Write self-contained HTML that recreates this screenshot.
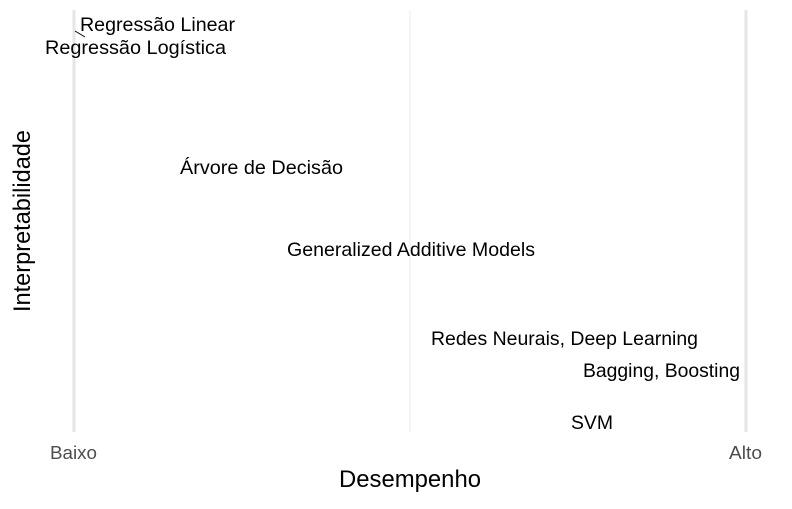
<!DOCTYPE html>
<html><head><meta charset="utf-8"><style>html,body{margin:0;padding:0;background:#fff}</style></head>
<body>
<svg width="792" height="504" xmlns="http://www.w3.org/2000/svg" font-family="Liberation Sans, Arial, sans-serif">
<rect width="792" height="504" fill="#fff"/>
<line x1="410" y1="10" x2="410" y2="432" stroke="#ebebeb" stroke-width="1"/>
<line x1="74" y1="10" x2="74" y2="432" stroke="#e6e6e6" stroke-width="3"/>
<line x1="746" y1="10" x2="746" y2="432" stroke="#e6e6e6" stroke-width="3"/>
<line x1="75" y1="31" x2="85" y2="37" stroke="#000" stroke-width="1"/>
<g font-size="19.5" fill="#000" lengthAdjust="spacingAndGlyphs">
<text x="80" y="31" textLength="155" lengthAdjust="spacingAndGlyphs">Regressão Linear</text>
<text x="45" y="54" textLength="181" lengthAdjust="spacingAndGlyphs">Regressão Logística</text>
<text x="180" y="174" textLength="163" lengthAdjust="spacingAndGlyphs">Árvore de Decisão</text>
<text x="287" y="256" textLength="248" lengthAdjust="spacingAndGlyphs">Generalized Additive Models</text>
<text x="431" y="345" textLength="267" lengthAdjust="spacingAndGlyphs">Redes Neurais, Deep Learning</text>
<text x="583" y="377" textLength="157" lengthAdjust="spacingAndGlyphs">Bagging, Boosting</text>
<text x="571" y="429" textLength="42" lengthAdjust="spacingAndGlyphs">SVM</text>
</g>
<g font-size="18" fill="#4d4d4d">
<text x="50" y="459" textLength="47" lengthAdjust="spacingAndGlyphs">Baixo</text>
<text x="729" y="459" textLength="33" lengthAdjust="spacingAndGlyphs">Alto</text>
</g>
<text x="339" y="487" font-size="24" textLength="142" lengthAdjust="spacingAndGlyphs" fill="#000">Desempenho</text>
<text transform="translate(30,312) rotate(-90)" font-size="24" textLength="182" lengthAdjust="spacingAndGlyphs" fill="#000">Interpretabilidade</text>
</svg>
</body></html>
